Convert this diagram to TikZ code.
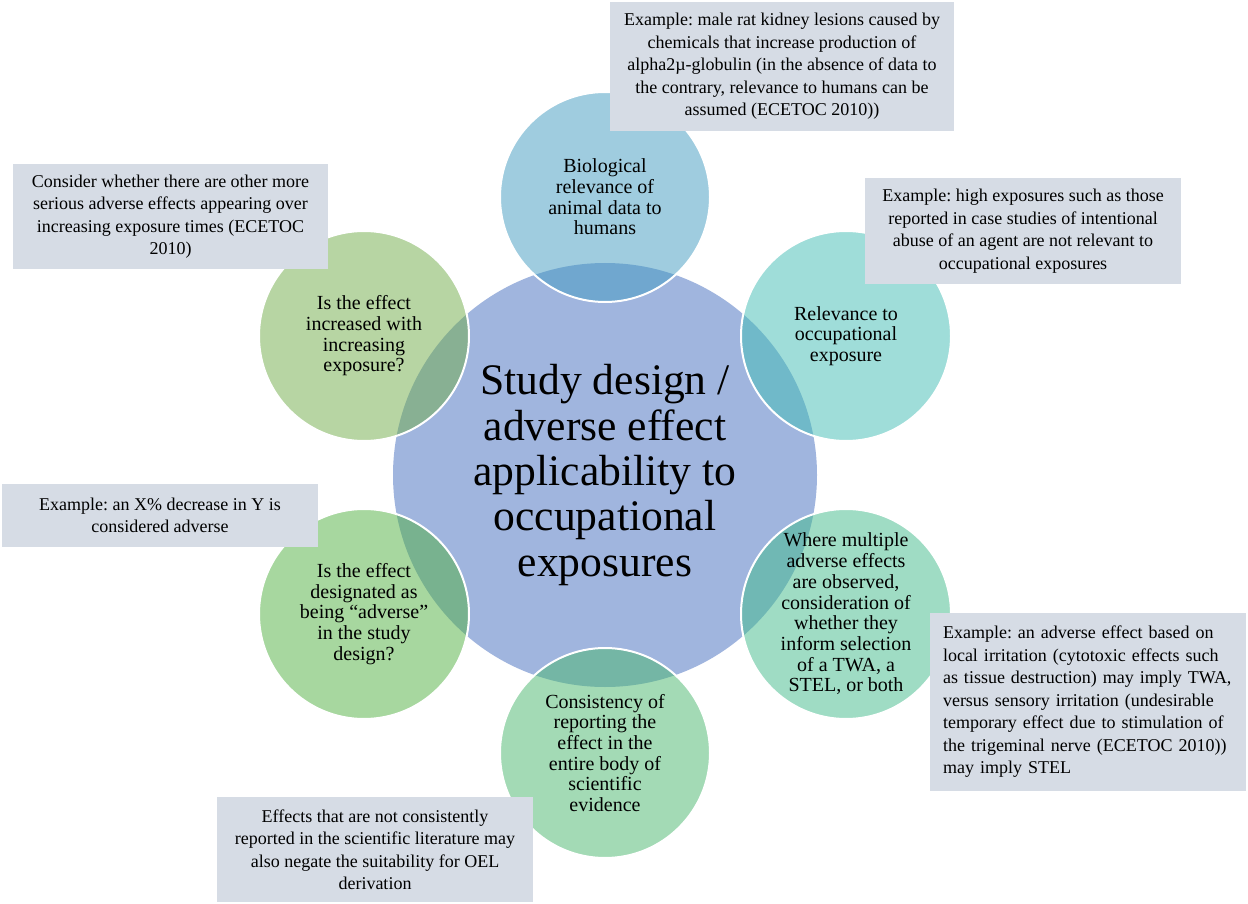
\documentclass[tikz,border=0pt]{standalone}
\usepackage{fontspec}
\setmainfont{Liberation Serif}
\frenchspacing
\definecolor{cmain}{RGB}{160,181,222}
\definecolor{cA}{RGB}{65,155,193}
\definecolor{cB}{RGB}{65,189,181}
\definecolor{cC}{RGB}{65,187,139}
\definecolor{cD}{RGB}{73,183,109}
\definecolor{cE}{RGB}{81,177,65}
\definecolor{cF}{RGB}{113,173,73}
\definecolor{boxc}{RGB}{214,220,229}
\tikzset{
  sat/.style={circle, minimum size=210, inner sep=0, draw=white, line width=2,
              fill opacity=0.5, draw opacity=1},
  sattext/.style={align=center, text=black, inner sep=0,
              font=\fontsize{20}{20.7}\selectfont},
  infobox/.style={fill=boxc, inner sep=0, align=center, text=black,
              font=\fontsize{18}{22.5}\selectfont},
}
\begin{document}
\begin{tikzpicture}[x=1pt,y=-1pt]
\useasboundingbox (0,0) rectangle (1248,904);
\fill[white] (0,0) rectangle (1248,904);
% central circle
\node[circle, fill=cmain, minimum size=424, inner sep=0] (main) at (605,475) {};
% satellites
\node[sat, fill=cA] (s1) at (605,197) {};
\node[sat, fill=cB] (s2) at (846,336) {};
\node[sat, fill=cC] (s3) at (846,614) {};
\node[sat, fill=cD] (s4) at (605,753) {};
\node[sat, fill=cE] (s5) at (364,614) {};
\node[sat, fill=cF] (s6) at (364,336) {};
% texts
\node[align=center, inner sep=0, font=\fontsize{43.6}{45.3}\selectfont] (mt) at (main)
  {Study design /\\adverse effect\\applicability to\\occupational\\exposures};
\node[sattext] (t1) at (s1) {Biological\\relevance of\\animal data to\\humans};
\node[sattext] (t2) at (s2) {Relevance to\\occupational\\exposure};
\node[sattext] (t3) at (s3) {Where multiple\\adverse effects\\are observed,\\consideration of\\whether they\\inform selection\\of a TWA, a\\STEL, or both};
\node[sattext] (t4) at (s4) {Consistency of\\reporting the\\effect in the\\entire body of\\scientific\\evidence};
\node[sattext] (t5) at (s5) {Is the effect\\designated as\\being “adverse”\\in the study\\design?};
\node[sattext] (t6) at (s6) {Is the effect\\increased with\\increasing\\exposure?};
% info boxes
\node[infobox, minimum width=344, minimum height=129] (b1) at (782,66.5)
  {Example: male rat kidney lesions caused by\\chemicals that increase production of\\alpha2µ-globulin (in the absence of data to\\the contrary, relevance to humans can be\\assumed (ECETOC 2010))};
\node[infobox, minimum width=316, minimum height=106] (b2) at (1023,231)
  {Example: high exposures such as those\\reported in case studies of intentional\\abuse of an agent are not relevant to\\occupational exposures};
\node[infobox, minimum width=316, minimum height=178, text width=290, inner xsep=13, align=left] (b3) at (1088,702)
  {Example: an adverse effect based on\\local irritation (cytotoxic effects such\\as tissue destruction) may imply TWA,\\versus sensory irritation (undesirable\\temporary effect due to stimulation of\\the trigeminal nerve (ECETOC 2010))\\may imply STEL};
\node[infobox, minimum width=316, minimum height=105] (b4) at (375,849.5)
  {Effects that are not consistently\\reported in the scientific literature may\\also negate the suitability for OEL\\derivation};
\node[infobox, minimum width=316, minimum height=63] (b5) at (160,515.5)
  {Example: an X\% decrease in Y is\\considered adverse};
\node[infobox, minimum width=315, minimum height=105] (b6) at (170.5,216.5)
  {Consider whether there are other more\\serious adverse effects appearing over\\increasing exposure times (ECETOC\\2010)};
\end{tikzpicture}
\end{document}
